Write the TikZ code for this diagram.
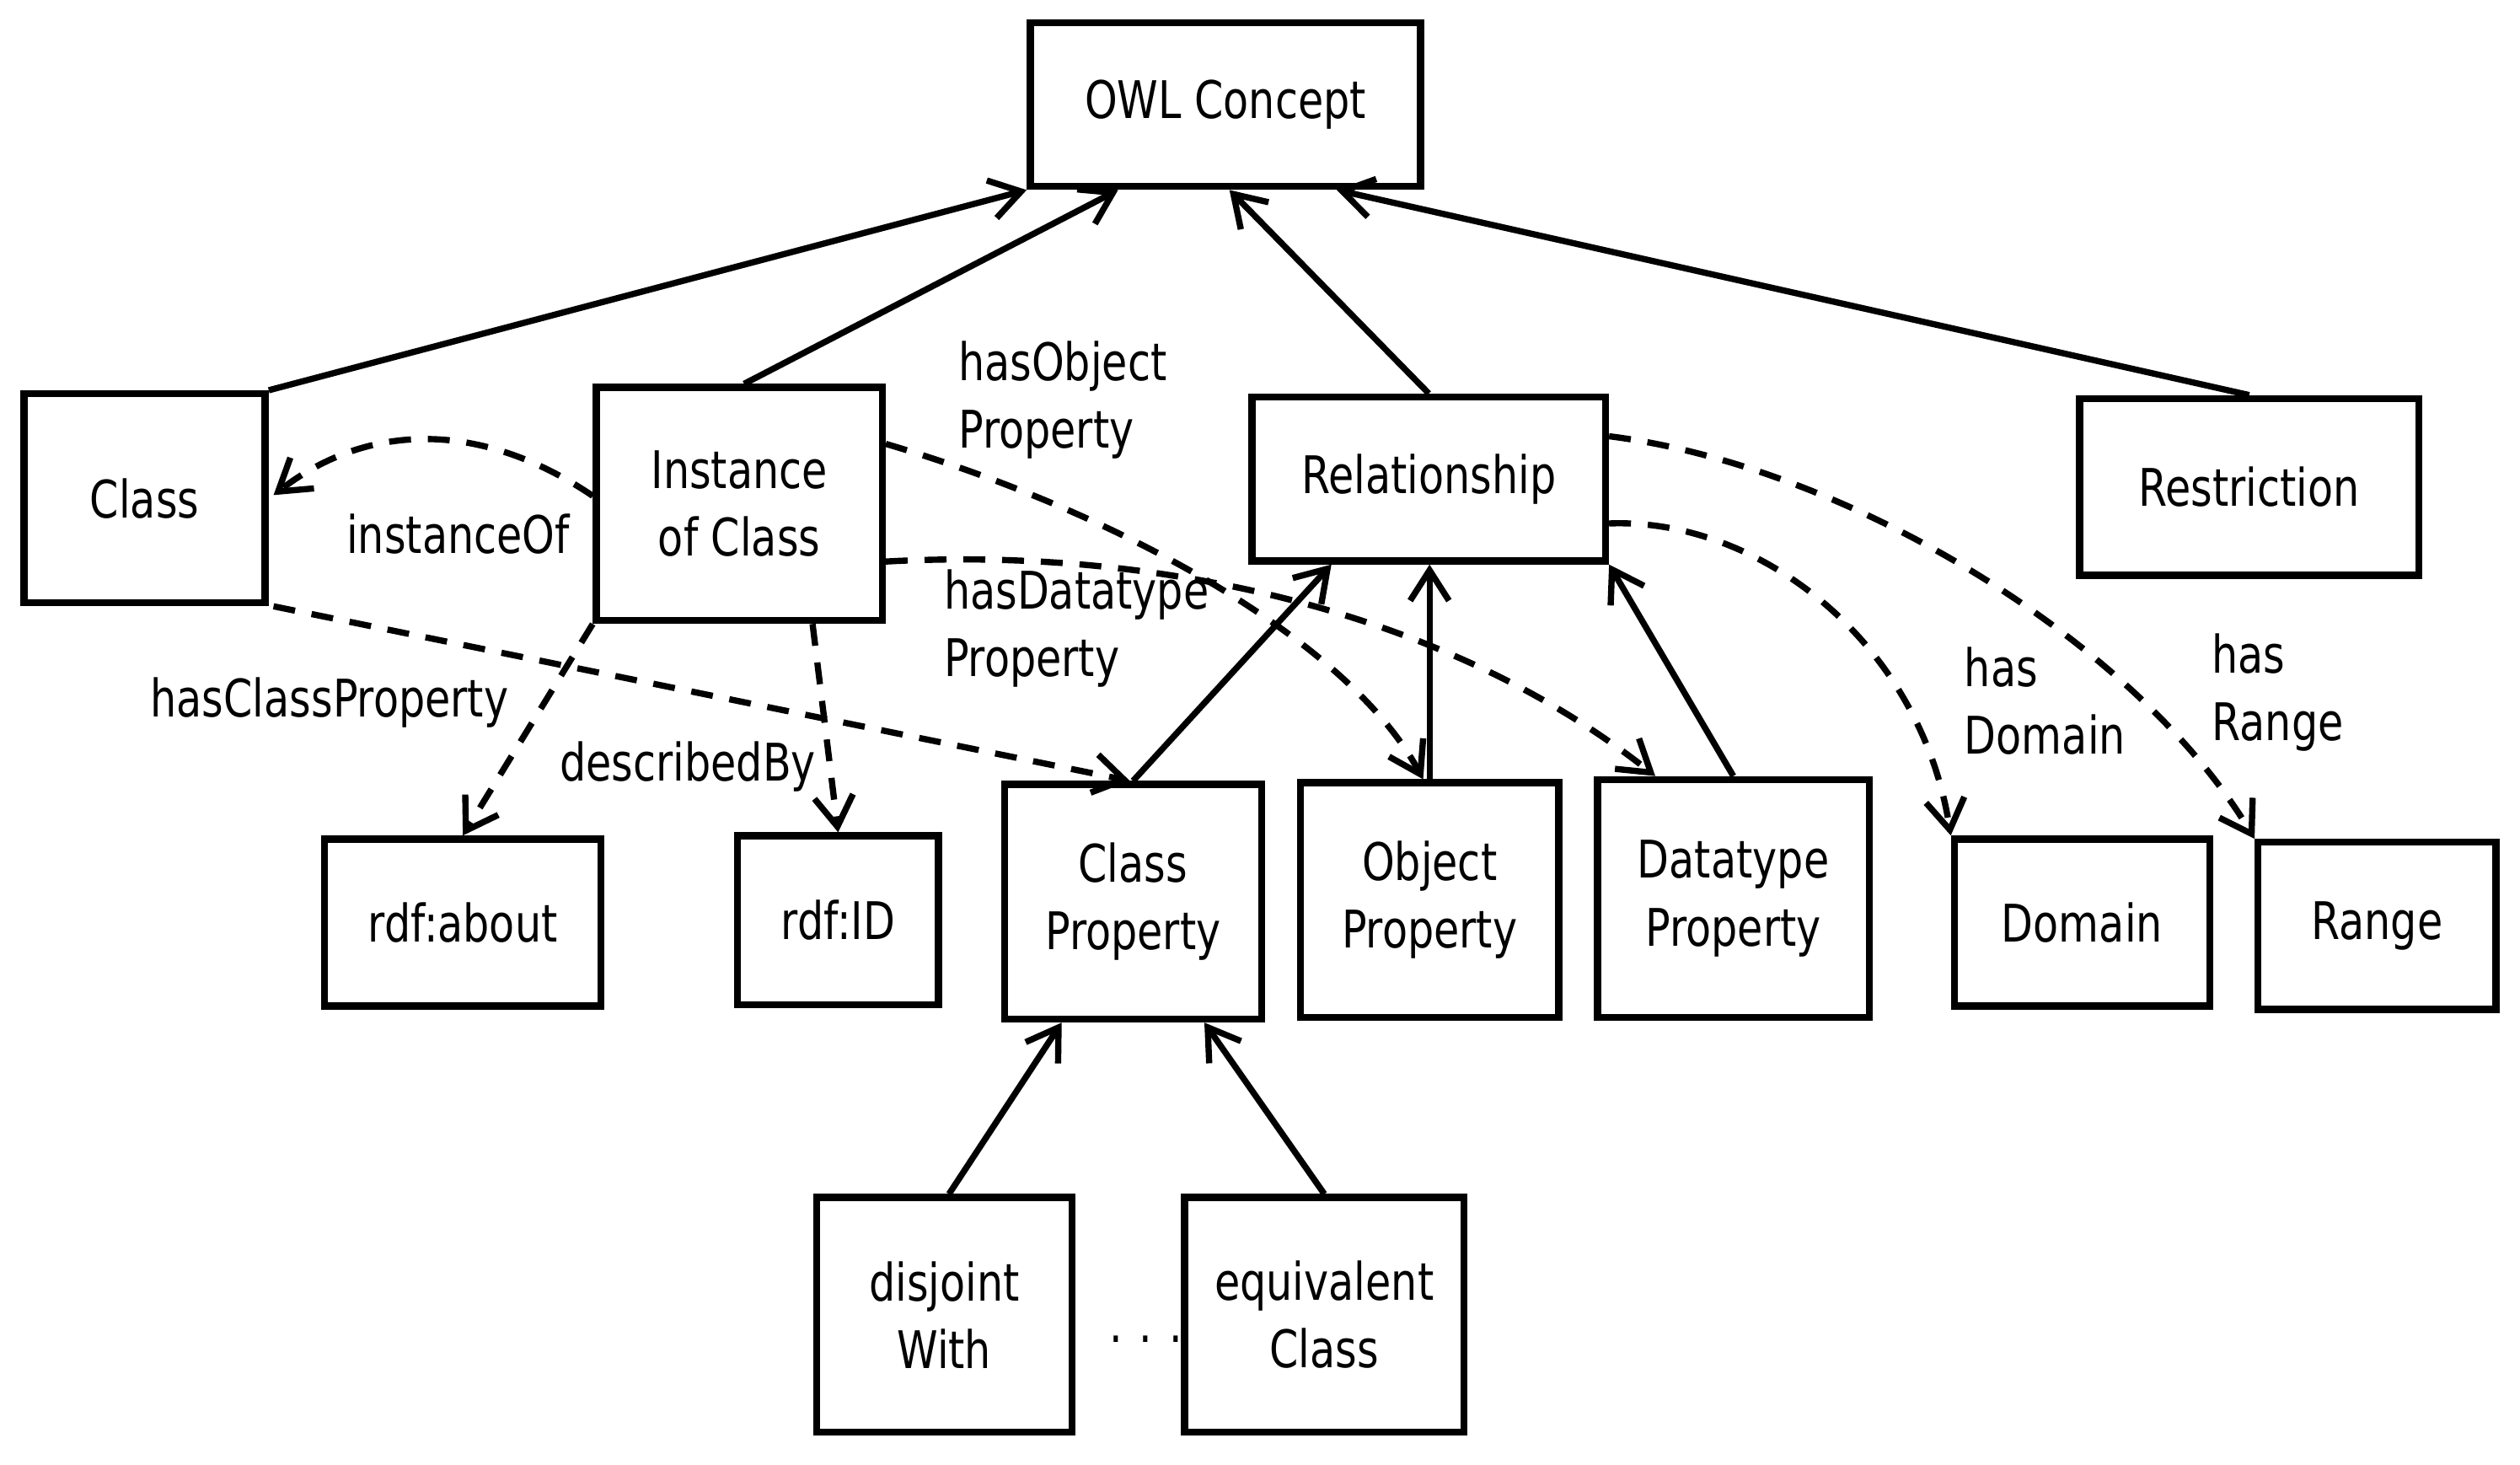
\documentclass[tikz,border=0pt]{standalone}
\usepackage{fontspec}
\setmainfont{DejaVu Sans}[FakeStretch=0.80]
\usetikzlibrary{arrows.meta,calc}
\begin{document}
\begin{tikzpicture}[x=0.01907cm,y=-0.01907cm,
  every node/.style={font=\fontsize{17.5}{22.8}\selectfont},
  box/.style={draw,line width=2.4pt,inner sep=0pt,align=center},
  lbl/.style={inner sep=0pt,align=left},
  sol/.style={line width=2.1pt,-{Straight Barb[length=0.36cm,width=0.46cm,line width=2.1pt]}},
  dsh/.style={sol,dash pattern=on 0.26cm off 0.2cm}]
\useasboundingbox (0,0) rectangle (1568,911.4);

% boxes
\node[box,minimum width=4.634cm,minimum height=1.945cm] (owl) at (762.5,65) {OWL Concept};
\node[box,minimum width=2.861cm,minimum height=2.479cm] (cls) at (90,310) {Class};
\node[box,minimum width=3.394cm,minimum height=2.765cm] (inst) at (460,313.5) {Instance\\of Class};
\node[box,minimum width=4.195cm,minimum height=1.945cm] (rel) at (889,298) {Relationship};
\node[box,minimum width=4.024cm,minimum height=2.098cm] (res) at (1399.5,303) {Restriction};
\node[box,minimum width=3.280cm,minimum height=1.983cm] (about) at (288,574) {rdf:about};
\node[box,minimum width=2.384cm,minimum height=2.002cm] (rdfid) at (521.5,572.5) {rdf:ID};
\node[box,minimum width=3.051cm,minimum height=2.784cm] (cp) at (705,561) {Class\\Property};
\node[box,minimum width=3.070cm,minimum height=2.784cm] (op) at (889.5,560) {Object\\Property};
\node[box,minimum width=3.223cm,minimum height=2.822cm] (dp) at (1078.5,559) {Datatype\\Property};
\node[box,minimum width=3.032cm,minimum height=1.983cm] (dom) at (1295.5,574) {Domain};
\node[box,minimum width=2.822cm,minimum height=1.983cm] (ran) at (1479,576) {Range};
\node[box,minimum width=3.032cm,minimum height=2.784cm] (dis) at (587.5,818) {disjoint\\With};
\node[box,minimum width=3.318cm,minimum height=2.784cm] (eqv) at (824,818) {equivalent\\Class};

% labels
\node[lbl,anchor=west] (lhobj) at (596,249) {hasObject\\Property};
\node[lbl,anchor=west] (lhdt) at (587,391) {hasDatatype\\Property};
\node[lbl,anchor=west] (lhdom) at (1222,436) {has\\Domain};
\node[lbl,anchor=west] (lhran) at (1376,431) {has\\Range};
\node[lbl] (linst) at (285,332) {instanceOf};
\node[lbl] (lhcp) at (205,437) {hasClassProperty};
\node[lbl] (ldesc) at (428,477) {describedBy};
\node[lbl,anchor=base] (dots) at (713,835) {.\hspace{0.2cm}.\hspace{0.2cm}.};

% solid generalisation arrows
\draw[sol] (cls.north east) -- (owl.south west);
\draw[sol] ($(inst.north)+(3,0)$) -- ($(owl.south west)!0.23!(owl.south east)$);
\draw[sol] (rel.north) -- ($(owl.south west)!0.51!(owl.south east)$);
\draw[sol] (res.north) -- ($(owl.south west)!0.78!(owl.south east)$);
\draw[sol] (cp.north) -- ($(rel.south west)!0.23!(rel.south east)$);
\draw[sol] (op.north) -- (op.north |- rel.south);
\draw[sol] (dp.north) -- (rel.south east);
\draw[sol] ($(dis.north)+(3,0)$) -- ($(cp.south west)!0.23!(cp.south east)$);
\draw[sol] (eqv.north) -- ($(cp.south west)!0.77!(cp.south east)$);

% dashed relations
\draw[dsh] ($(inst.west)+(0,-5)$) .. controls (300,262) and (230,262) .. ($(cls.east)+(3,-2)$);
\draw[dsh] ($(cls.south east)+(3,0)$) -- ($(cp.north)+(-2,0)$);
\draw[dsh] (inst.south west) -- (about.north);
\draw[dsh] ($(inst.south)!0.5!(inst.south east)$) -- (rdfid.north);
\draw[dsh] ($(inst.north east)!0.25!(inst.south east)$) .. controls (700,320) and (840,400) .. ($(op.north)+(-4,0)$);
\draw[dsh] ($(inst.north east)!0.74!(inst.south east)$) .. controls (720,340) and (900,380) .. ($(dp.north west)!0.22!(dp.north east)$);
\draw[dsh] ($(rel.north east)!0.76!(rel.south east)$) .. controls (1095,322) and (1195,400) .. (dom.north west);
\draw[dsh] ($(rel.north east)!0.25!(rel.south east)$) .. controls (1150,290) and (1330,400) .. (ran.north west);
\end{tikzpicture}
\end{document}
